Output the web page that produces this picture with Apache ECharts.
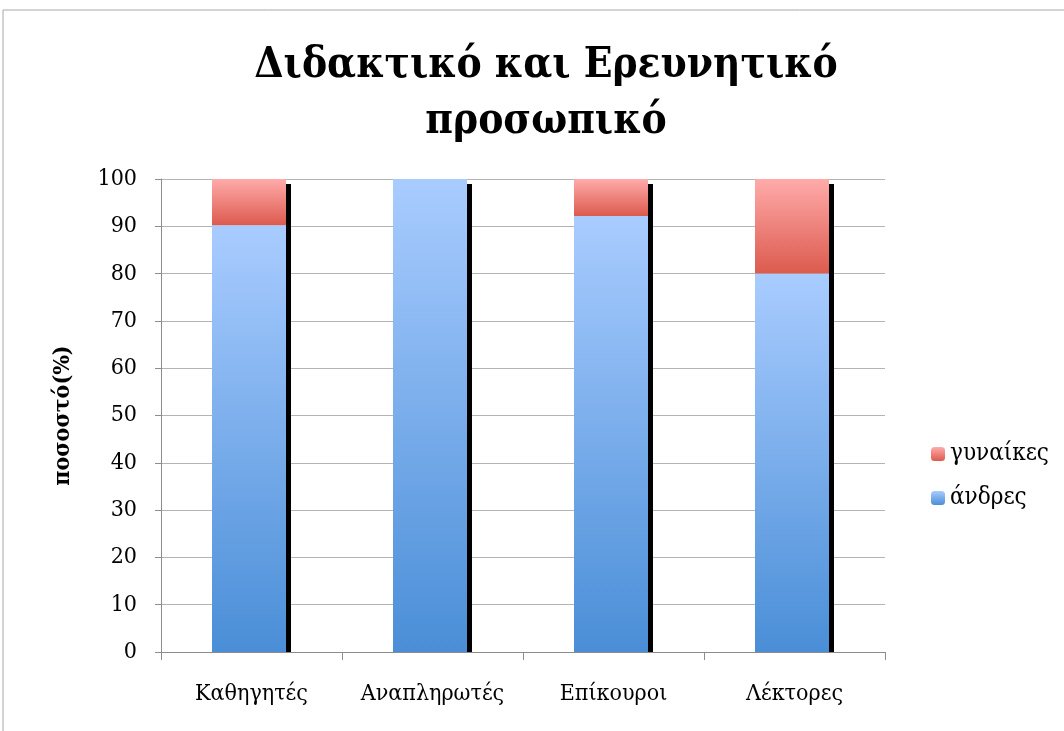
<!DOCTYPE html>
<html><head><meta charset="utf-8">
<script src="https://cdn.jsdelivr.net/npm/echarts@6/dist/echarts.min.js"></script>
<style>html,body{margin:0;padding:0;background:#fff}#c{width:1064px;height:731px}</style>
</head><body><div id="c"></div>
<script>
const categories = ['Καθηγητές', 'Αναπληρωτές', 'Επίκουροι', 'Λέκτορες'];
const men = [90.2, 100, 92.2, 80];
const women = [9.8, 0, 7.8, 20];
const yTicks = [0, 10, 20, 30, 40, 50, 60, 70, 80, 90, 100];
const totals = men.map((m, i) => m + women[i]);

const serif = '"DejaVu Serif Condensed", "DejaVu Serif", serif';
const chart = echarts.init(document.getElementById('c'));
const blueGrad = new echarts.graphic.LinearGradient(0, 0, 0, 1, [
  { offset: 0, color: '#a9ccff' }, { offset: 1, color: '#4a8ed7' }]);
const redGrad = new echarts.graphic.LinearGradient(0, 0, 0, 1, [
  { offset: 0, color: '#ffabaa' }, { offset: 1, color: '#dc5a4e' }]);

chart.setOption({
  animation: false,
  graphic: [{ type: 'rect', shape: { x: 3, y: 10, width: 1200, height: 900 }, style: { fill: 'none', stroke: '#a8a8a8', lineWidth: 1 }, silent: true }],
  title: {
    text: 'Διδακτικό και Ερευνητικό\nπροσωπικό',
    left: 541, top: 33, textAlign: 'center',
    textStyle: { fontFamily: serif, fontWeight: 'bold', fontSize: 42, lineHeight: 56, color: '#000' }
  },
  legend: {
    orient: 'vertical', left: 926, top: 437, itemGap: 20,
    itemWidth: 14, itemHeight: 14,
    data: ['γυναίκες', 'άνδρες'],
    textStyle: { fontFamily: serif, fontSize: 24, color: '#000' }
  },
  grid: { left: 161, right: 179, top: 179, bottom: 79, containLabel: false },
  xAxis: [{
    type: 'category', data: categories,
    axisLine: { lineStyle: { color: '#8c8c8c' } },
    axisTick: { show: true, interval: 0, length: 8, lineStyle: { color: '#8c8c8c' } },
    axisLabel: { interval: 0, hideOverlap: false, fontFamily: serif, fontSize: 23, color: '#000', margin: 31 }
  }],
  yAxis: [{
    type: 'value', min: 0, max: 100, interval: 10,
    name: 'ποσοστό(%)', nameLocation: 'middle', nameGap: 86, nameRotate: 90,
    nameTextStyle: { fontFamily: serif, fontWeight: 'bold', fontSize: 23, color: '#000' },
    axisLine: { show: true, lineStyle: { color: '#8c8c8c' } },
    axisTick: { show: true, length: 6, lineStyle: { color: '#8c8c8c' } },
    splitLine: { lineStyle: { color: '#b4b4b4' } },
    axisLabel: { fontFamily: serif, fontSize: 23, color: '#000', margin: 24,
      formatter: v => yTicks.includes(v) ? String(v) : '' }
  }, {
    type: 'value', min: 0, max: 101.06, show: false
  }],
  series: [
    { name: 'άνδρες', type: 'bar', stack: 's', data: men, barWidth: 74, barGap: '0%',
      itemStyle: { color: blueGrad }, z: 3 },
    { name: 'γυναίκες', type: 'bar', stack: 's', data: women, barWidth: 74,
      itemStyle: { color: redGrad }, z: 3 },
    { name: 'shadow', type: 'bar', data: totals, barWidth: 5, yAxisIndex: 1,
      itemStyle: { color: '#000' }, z: 2, silent: true }
  ]
});
</script></body></html>
